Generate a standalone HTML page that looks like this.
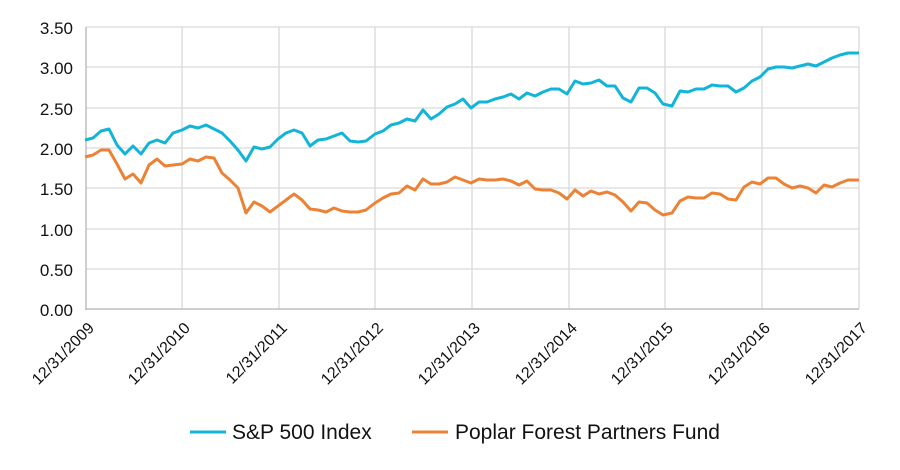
<!DOCTYPE html>
<html><head><style>body{margin:0;background:#fff}svg text{font-family:"Liberation Sans",Arial,sans-serif;fill:#111}</style></head>
<body>
<svg width="900" height="465" xmlns="http://www.w3.org/2000/svg">
<g stroke="#d9d9d9" stroke-width="1.3">
<line x1="86" y1="27" x2="859" y2="27"/><line x1="86" y1="67" x2="859" y2="67"/><line x1="86" y1="108" x2="859" y2="108"/><line x1="86" y1="148" x2="859" y2="148"/><line x1="86" y1="188" x2="859" y2="188"/><line x1="86" y1="229" x2="859" y2="229"/><line x1="86" y1="269" x2="859" y2="269"/>
<line x1="182" y1="27" x2="182" y2="309"/><line x1="279" y1="27" x2="279" y2="309"/><line x1="375" y1="27" x2="375" y2="309"/><line x1="472" y1="27" x2="472" y2="309"/><line x1="569" y1="27" x2="569" y2="309"/><line x1="665" y1="27" x2="665" y2="309"/><line x1="762" y1="27" x2="762" y2="309"/><line x1="859" y1="27" x2="859" y2="309"/>
</g>
<g stroke="#bfbfbf" stroke-width="1.5"><line x1="86" y1="27" x2="86" y2="310"/><line x1="85" y1="309" x2="859" y2="309"/></g>
<g font-size="17" text-anchor="end">
<text x="73" y="34">3.50</text><text x="73" y="74">3.00</text><text x="73" y="115">2.50</text><text x="73" y="155">2.00</text><text x="73" y="195">1.50</text><text x="73" y="236">1.00</text><text x="73" y="276">0.50</text><text x="73" y="316">0.00</text>
</g>
<g font-size="16" text-anchor="end">
<text transform="translate(95,329) rotate(-45)">12/31/2009</text>
<text transform="translate(191,329) rotate(-45)">12/31/2010</text>
<text transform="translate(288,329) rotate(-45)">12/31/2011</text>
<text transform="translate(384,329) rotate(-45)">12/31/2012</text>
<text transform="translate(481,329) rotate(-45)">12/31/2013</text>
<text transform="translate(578,329) rotate(-45)">12/31/2014</text>
<text transform="translate(674,329) rotate(-45)">12/31/2015</text>
<text transform="translate(771,329) rotate(-45)">12/31/2016</text>
<text transform="translate(868,329) rotate(-45)">12/31/2017</text>
</g>
<polyline fill="none" stroke="#12b5d8" stroke-width="3" stroke-linejoin="round" points="85,140 93,138 101,131 109,129 117,145 125,154 133,146 141,154 149,143 157,140 165,143 173,133 182,130 190,126 198,128 206,125 214,129 222,133 230,141 238,150 246,161 254,147 262,149 270,147 278,139 286,133 294,130 302,133 310,146 318,140 326,139 334,136 342,133 350,141 358,142 366,141 375,134 383,131 391,125 399,123 407,119 415,121 423,110 431,119 439,114 447,107 455,104 463,99 471,108 479,102 487,102 495,99 503,97 511,94 519,99 527,93 535,96 543,92 551,89 559,89 567,94 575,81 583,84 591,83 599,80 607,86 615,86 623,98 631,102 639,88 647,88 655,93 663,104 672,106 680,91 688,92 696,89 704,89 712,85 720,86 728,86 736,92 744,88 752,81 760,77 768,69 776,67 784,67 792,68 800,66 808,64 816,66 824,62 832,58 840,55 848,53 859,53"/>
<polyline fill="none" stroke="#ec8235" stroke-width="3" stroke-linejoin="round" points="85,157 93,155 101,150 109,150 117,164 125,179 133,174 141,183 149,165 157,159 165,166 173,165 182,164 190,159 198,161 206,157 214,158 222,173 230,180 238,188 246,213 254,202 262,206 270,212 278,206 286,200 294,194 302,200 310,209 318,210 326,212 334,208 342,211 350,212 358,212 366,210 375,203 383,198 391,194 399,193 407,186 415,190 423,179 431,184 439,184 447,182 455,177 463,180 471,183 479,179 487,180 495,180 503,179 511,181 519,185 527,181 535,189 543,190 551,190 559,193 567,199 575,190 583,196 591,191 599,194 607,192 615,195 623,202 631,211 639,202 647,203 655,210 663,215 672,213 680,201 688,197 696,198 704,198 712,193 720,194 728,199 736,200 744,187 752,182 760,184 768,178 776,178 784,184 792,188 800,186 808,188 816,193 824,185 832,187 840,183 848,180 859,180"/>
<line x1="190" y1="432" x2="226" y2="432" stroke="#12b5d8" stroke-width="3"/>
<text x="232" y="439" font-size="21">S&amp;P 500 Index</text>
<line x1="412" y1="432" x2="448" y2="432" stroke="#ec8235" stroke-width="3"/>
<text x="455" y="439" font-size="21">Poplar Forest Partners Fund</text>
</svg>
</body></html>
